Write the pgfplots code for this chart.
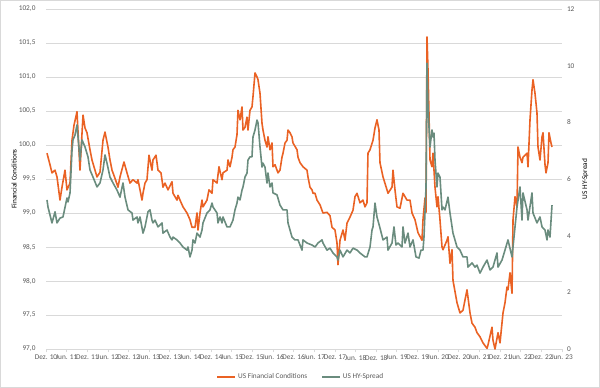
\documentclass[border=0pt]{standalone}
\usepackage{fontspec}
\setmainfont{Carlito}
\usepackage{pgfplots}
\pgfplotsset{compat=1.18}
\definecolor{fcorange}{RGB}{234,98,36}
\definecolor{hygreen}{RGB}{106,140,126}
\definecolor{gridgray}{RGB}{217,217,217}
\definecolor{txtgray}{RGB}{89,89,89}
\begin{document}
\begin{tikzpicture}[x=1pt,y=1pt]
\useasboundingbox (0,0) rectangle (600,388);
\draw[gridgray, line width=0.8pt] (0.4,0.4) rectangle (599.6,387.6);
\pgfplotsset{
  base/.style={
    at={(46pt,39pt)}, anchor=south west,
    scale only axis, width=516pt, height=340pt,
    xmin=0, xmax=150,
    clip=false,
    font=\fontsize{7.3}{8.5}\selectfont,
    tick label style={txtgray},
    label style={txtgray},
    /pgf/number format/assume math mode=true,
  }
}
\begin{axis}[base,
  ymin=97, ymax=102,
  axis x line*=bottom, axis y line*=left,
  x axis line style={gridgray, line width=0.8pt},
  y axis line style={draw=none},
  ytick={97,97.5,98,98.5,99,99.5,100,100.5,101,101.5,102},
  yticklabel style={xshift=-3.5pt, /pgf/number format/.cd, use comma, fixed, fixed zerofill, precision=1},
  ytick style={draw=none},
  xtick={0,6,...,150},
  xticklabels={Dez. 10,Jun. 11,Dez. 11,Jun. 12,Dez. 12,Jun. 13,Dez. 13,Jun. 14,Dez. 14,Jun. 15,Dez. 15,Jun. 16,Dez. 16,Jun. 17,Dez. 17,Jun. 18,Dez. 18,Jun. 19,Dez. 19,Jun. 20,Dez. 20,Jun. 21,Dez. 21,Jun. 22,Dez. 22,Jun. 23},
  tick align=outside, major tick length=3.5pt,
  xtick style={gridgray, line width=0.8pt},
  xticklabel style={yshift=1pt},
  ymajorgrids, grid style={gridgray, line width=0.8pt},
  ylabel={Financial Conditions},
  every axis y label/.style={at={(axis description cs:-0.062,0.5)}, rotate=90, anchor=center},
]
\addplot[fcorange, line width=1.6pt, line join=round] coordinates {
(0.29,99.88)(1.16,99.71)(1.74,99.59)(2.62,99.63)(3.20,99.53)(4.07,99.19)(4.65,99.38)(5.52,99.63)(6.10,99.34)(6.98,99.44)(7.56,100.07)(8.14,100.29)(9.01,100.49)(9.88,99.63)(10.76,100.44)(11.34,100.25)(11.92,100.18)(12.79,99.93)(13.37,99.78)(14.24,99.63)(14.83,99.53)(15.70,99.60)(16.57,100.07)(17.15,100.19)(18.02,99.97)(18.60,99.78)(19.19,99.63)(20.06,99.51)(20.93,99.38)(21.51,99.53)(22.67,99.75)(23.55,99.59)(24.42,99.44)(25.29,99.49)(26.45,99.44)(26.74,99.49)(27.91,99.19)(28.20,99.29)(28.78,99.44)(29.36,99.49)(29.94,99.85)(30.81,99.63)(31.10,99.78)(31.98,99.85)(32.56,99.63)(33.43,99.59)(34.01,99.38)(34.59,99.44)(35.47,99.34)(36.63,99.46)(36.92,99.29)(38.08,99.19)(38.37,99.26)(38.95,99.19)(39.83,99.09)(40.99,99.00)(41.86,98.90)(42.44,98.79)(43.31,98.79)(43.90,99.00)(44.19,98.75)(44.77,99.00)(45.35,99.19)(45.64,99.09)(46.80,99.19)(47.38,99.34)(48.26,99.29)(48.55,99.49)(49.71,99.44)(50.29,99.68)(51.16,99.49)(51.45,99.59)(52.62,99.63)(52.91,99.78)(53.49,99.68)(54.07,99.82)(54.36,99.93)(54.94,99.97)(55.52,100.15)(55.81,100.51)(56.40,100.37)(56.98,100.56)(57.27,100.22)(57.85,100.26)(58.43,100.41)(58.72,100.22)(59.30,100.51)(59.88,100.56)(60.17,100.71)(60.76,101.06)(61.34,101.00)(61.63,100.96)(62.21,100.76)(62.79,100.32)(63.08,100.22)(63.66,100.07)(64.24,99.97)(64.53,100.12)(65.12,99.93)(65.70,100.03)(65.99,99.68)(66.57,99.71)(67.15,99.63)(67.44,99.59)(68.02,99.63)(68.60,99.82)(68.90,99.88)(69.48,100.03)(70.06,100.07)(70.35,100.22)(70.93,100.18)(71.51,100.12)(71.80,100.03)(72.97,99.93)(73.26,99.82)(73.84,99.74)(74.71,99.68)(75.87,99.63)(76.16,99.53)(76.74,99.38)(77.33,99.34)(77.62,99.29)(78.20,99.29)(78.78,99.19)(79.65,99.12)(80.52,99.00)(81.69,99.01)(82.56,98.96)(83.14,98.79)(84.01,98.75)(84.59,98.56)(84.88,98.24)(85.47,98.60)(86.34,98.75)(86.92,98.60)(87.50,98.85)(88.37,98.94)(89.24,99.04)(89.83,99.24)(90.41,99.29)(91.28,99.15)(92.15,99.19)(92.73,99.09)(93.31,99.15)(93.60,99.88)(94.19,99.93)(95.06,100.07)(95.64,100.25)(96.22,100.37)(96.80,100.22)(97.09,99.74)(97.97,99.53)(99.13,99.34)(99.42,99.29)(100.58,99.38)(100.87,99.63)(101.45,99.34)(102.03,99.09)(102.91,99.07)(103.78,99.29)(104.94,99.19)(105.81,99.19)(106.40,99.00)(107.27,98.90)(108.14,98.71)(109.30,98.60)(109.59,98.90)(110.17,99.22)(110.47,99.01)(110.76,101.59)(111.05,101.10)(111.63,99.78)(112.21,99.68)(112.50,99.88)(113.08,99.38)(113.66,99.09)(113.95,99.24)(114.53,98.90)(115.12,98.50)(115.41,98.46)(116.57,98.60)(116.86,98.65)(117.44,98.26)(118.02,98.46)(118.31,98.01)(119.48,97.68)(120.35,97.53)(121.22,97.57)(122.38,97.87)(122.67,97.76)(123.26,97.53)(123.84,97.38)(124.71,97.32)(125.29,97.24)(126.16,97.18)(127.03,97.09)(128.20,97.01)(128.49,97.06)(129.65,97.32)(129.94,97.13)(130.52,97.00)(131.40,97.24)(131.98,97.09)(132.85,97.53)(133.43,97.68)(134.01,97.91)(134.30,97.87)(134.88,98.12)(135.47,97.82)(135.76,98.90)(136.34,99.24)(136.92,99.09)(137.21,99.97)(137.79,99.82)(138.37,99.74)(138.66,99.82)(139.83,99.88)(140.12,99.68)(140.70,100.37)(141.28,100.81)(141.57,100.96)(142.15,100.76)(142.73,100.47)(143.02,99.97)(143.60,99.78)(144.19,100.12)(144.48,100.18)(145.06,99.71)(145.35,99.59)(145.93,99.74)(146.22,100.18)(146.80,100.03)(147.09,99.97)
};
\end{axis}
\begin{axis}[base,
  ymin=0, ymax=12,
  axis x line=none, axis y line*=right,
  y axis line style={draw=none},
  ytick={0,2,4,6,8,10,12},
  ytick style={draw=none},
  yticklabel style={xshift=1.5pt},
  ylabel={US HY-Spread},
  every axis y label/.style={at={(axis description cs:1.045,0.5)}, rotate=90, anchor=center},
  legend style={at={(0.494,-0.0824)}, anchor=center, draw=none, fill=none,
    legend columns=2, font=\fontsize{7.3}{8.5}\selectfont, text=txtgray,
    /tikz/every even column/.append style={column sep=12pt}},
  legend image code/.code={\draw[#1] (0pt,0pt) -- (18pt,0pt);},
]
\addlegendimage{fcorange, line width=1.6pt}
\addlegendentry{US Financial Conditions}
\addplot[hygreen, line width=1.6pt, line join=round] coordinates {
(0.29,5.26)(0.58,5.01)(1.74,4.45)(2.62,4.84)(3.20,4.45)(4.07,4.62)(4.94,4.66)(6.10,5.33)(6.40,5.19)(6.98,5.51)(7.56,7.02)(7.85,7.38)(8.43,7.55)(9.01,7.91)(9.88,6.67)(10.47,7.38)(11.34,7.13)(12.21,6.78)(12.79,6.32)(13.66,6.07)(14.83,5.72)(15.70,5.86)(16.57,6.32)(17.15,6.85)(17.73,6.56)(18.60,6.07)(19.48,5.86)(20.64,5.61)(21.51,5.36)(22.38,5.86)(22.97,5.36)(23.84,4.91)(25.00,4.80)(25.29,4.55)(26.45,4.66)(26.74,4.45)(27.33,4.66)(28.20,4.09)(28.78,4.31)(29.65,4.84)(30.23,4.91)(30.81,4.55)(31.10,4.45)(31.69,4.55)(32.56,4.31)(33.72,4.45)(34.01,4.09)(35.17,4.20)(36.05,3.95)(36.63,3.85)(36.92,3.95)(38.08,3.85)(38.95,3.74)(39.83,3.60)(40.99,3.49)(41.28,3.60)(41.86,3.25)(42.44,3.49)(42.73,3.85)(43.31,3.74)(43.90,4.09)(44.77,3.95)(45.35,4.20)(45.64,4.45)(46.80,4.80)(47.67,4.91)(48.26,5.15)(48.55,5.01)(49.71,4.80)(50.00,4.45)(50.58,4.66)(51.16,4.45)(51.45,4.66)(52.62,4.31)(53.49,4.31)(54.36,4.55)(54.94,4.91)(55.52,5.15)(55.81,5.36)(56.40,5.26)(56.98,5.61)(57.27,5.72)(57.85,6.07)(58.43,6.21)(58.72,6.67)(59.30,6.78)(59.88,6.78)(60.17,7.48)(60.76,7.73)(61.34,8.08)(61.63,7.98)(62.21,7.13)(62.79,6.42)(63.08,6.56)(63.66,6.42)(64.24,5.86)(64.53,6.21)(65.12,5.72)(65.70,5.86)(65.99,5.51)(67.15,5.44)(68.02,5.08)(68.90,4.91)(70.06,4.91)(70.35,4.45)(71.51,3.95)(72.38,3.85)(73.26,3.85)(74.42,3.49)(74.71,3.85)(75.87,3.74)(77.33,3.67)(78.20,3.60)(79.07,3.74)(80.23,3.85)(80.52,3.74)(81.69,3.49)(82.56,3.56)(83.43,3.39)(84.59,3.25)(84.88,3.14)(85.47,3.49)(86.34,3.25)(87.50,3.49)(88.37,3.39)(89.24,3.56)(90.41,3.49)(91.28,3.39)(92.73,3.25)(93.31,3.25)(94.19,3.60)(94.77,4.20)(95.06,4.31)(95.64,5.15)(96.22,4.66)(97.09,4.27)(97.97,3.85)(99.13,3.95)(99.42,3.49)(100.58,3.74)(101.16,4.31)(101.74,3.67)(102.33,3.74)(103.49,3.60)(103.78,4.31)(104.36,3.74)(105.23,4.09)(105.81,3.60)(106.69,3.85)(107.56,3.25)(108.43,3.21)(109.01,3.49)(109.59,3.49)(109.88,3.95)(110.47,5.72)(110.76,10.09)(111.05,8.54)(111.63,7.13)(112.21,7.73)(112.50,7.48)(112.79,7.62)(113.08,6.67)(113.66,5.72)(113.95,6.21)(114.53,6.07)(115.12,4.91)(115.41,5.01)(115.99,4.91)(116.86,5.36)(117.44,4.80)(118.31,4.09)(119.48,3.60)(120.35,3.49)(121.22,3.25)(122.38,3.25)(122.67,2.89)(123.84,3.04)(124.71,2.89)(125.29,2.96)(126.16,2.68)(127.03,2.89)(128.20,3.14)(129.07,2.79)(129.94,2.89)(131.10,3.39)(131.40,2.89)(132.56,3.14)(133.43,3.49)(134.30,3.85)(135.47,3.25)(136.34,4.31)(136.92,5.01)(137.79,5.72)(138.37,4.55)(138.66,5.51)(139.83,4.91)(140.12,4.55)(141.28,5.51)(141.57,4.80)(142.73,4.45)(143.60,4.66)(144.19,4.31)(145.06,4.20)(145.64,3.85)(145.93,4.20)(146.51,3.95)(147.09,5.08)
};
\addlegendentry{US HY-Spread}
\end{axis}
\end{tikzpicture}
\end{document}
